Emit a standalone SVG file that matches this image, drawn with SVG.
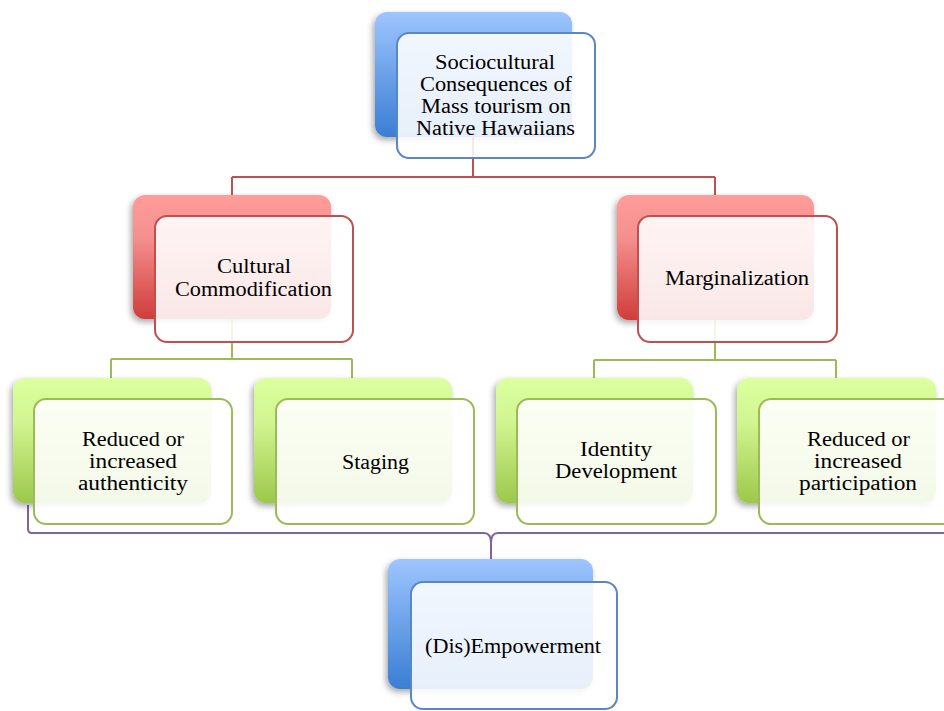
<svg xmlns="http://www.w3.org/2000/svg" width="944" height="711" viewBox="0 0 944 711">
<defs>
<linearGradient id="gBlue" x1="0" y1="0" x2="0" y2="1"><stop offset="0" stop-color="#9ec5ff"/><stop offset="1" stop-color="#3a7ed3"/></linearGradient>
<linearGradient id="gRed" x1="0" y1="0" x2="0" y2="1"><stop offset="0" stop-color="#ff9d9b"/><stop offset="0.35" stop-color="#f48f8d"/><stop offset="1" stop-color="#cf3d3a"/></linearGradient>
<linearGradient id="gGreen" x1="0" y1="0" x2="0" y2="1"><stop offset="0" stop-color="#dcffa0"/><stop offset="0.35" stop-color="#d2f591"/><stop offset="1" stop-color="#9cc84b"/></linearGradient>
<filter id="sh" x="-20%" y="-20%" width="140%" height="140%"><feDropShadow dx="-2" dy="3" stdDeviation="3" flood-color="#000" flood-opacity="0.35"/></filter>
</defs>
<style>
.t{font-family:"Liberation Serif","DejaVu Serif",serif;font-size:20px;fill:#000}
.front{fill:#fff;fill-opacity:0.88;stroke-width:2}
.fb{stroke:#5a87c4}
.fr{stroke:#c0504d}
.fg{stroke:#9bbb59}
.c{fill:none;stroke-width:2}
</style>
<g id="connectors">
<path class="c" stroke="#c0504d" d="M473,137 V177 M232,177 H715 M232,177 V215 M715,177 V216"/>
<path class="c" stroke="#9bbb59" d="M232,319 V359 M111,359 H352 M111,359 V398 M352,359 V398"/>
<path class="c" stroke="#9bbb59" d="M715,320 V360 M594,360 H836 M594,360 V398 M836,360 V398"/>
<path class="c" stroke="#8064a2" stroke-width="2.3" d="M28,505 V529 Q28,533 32,533 H484 Q491,533 491,543 V559 M491,543 Q491,533 498,533 H950 Q954,533 954,529 V505"/>
</g>
<g id="n-top">
<rect x="375" y="12" width="197" height="125" rx="12" fill="url(#gBlue)" filter="url(#sh)"/>
<rect class="front fb" x="397" y="33" width="198" height="125" rx="12"/>
<text class="t" x="435" y="69" textLength="120" lengthAdjust="spacingAndGlyphs">Sociocultural</text>
<text class="t" x="420" y="91" textLength="152" lengthAdjust="spacingAndGlyphs">Consequences of</text>
<text class="t" x="421" y="113" textLength="150" lengthAdjust="spacingAndGlyphs">Mass tourism on</text>
<text class="t" x="416" y="135" textLength="159" lengthAdjust="spacingAndGlyphs">Native Hawaiians</text>
</g>
<g id="n-cultural">
<rect x="133" y="195" width="198" height="124" rx="12" fill="url(#gRed)" filter="url(#sh)"/>
<rect class="front fr" x="155" y="216" width="198" height="126" rx="12"/>
<text class="t" x="217" y="273" textLength="74" lengthAdjust="spacingAndGlyphs">Cultural</text>
<text class="t" x="175" y="296" textLength="157" lengthAdjust="spacingAndGlyphs">Commodification</text>
</g>
<g id="n-marginalization">
<rect x="617" y="195" width="197" height="125" rx="12" fill="url(#gRed)" filter="url(#sh)"/>
<rect class="front fr" x="638" y="216" width="199" height="126" rx="12"/>
<text class="t" x="665" y="285" textLength="144" lengthAdjust="spacingAndGlyphs">Marginalization</text>
</g>
<g id="n-authenticity">
<rect x="13" y="378" width="198" height="125" rx="12" fill="url(#gGreen)" filter="url(#sh)"/>
<rect class="front fg" x="34" y="399" width="198" height="125" rx="12"/>
<text class="t" x="82" y="446" textLength="102" lengthAdjust="spacingAndGlyphs">Reduced or</text>
<text class="t" x="89" y="468" textLength="88" lengthAdjust="spacingAndGlyphs">increased</text>
<text class="t" x="78" y="490" textLength="110" lengthAdjust="spacingAndGlyphs">authenticity</text>
</g>
<g id="n-staging">
<rect x="254" y="378" width="198" height="125" rx="12" fill="url(#gGreen)" filter="url(#sh)"/>
<rect class="front fg" x="276" y="399" width="198" height="125" rx="12"/>
<text class="t" x="342" y="469" textLength="67" lengthAdjust="spacingAndGlyphs">Staging</text>
</g>
<g id="n-identity">
<rect x="496" y="378" width="197" height="125" rx="12" fill="url(#gGreen)" filter="url(#sh)"/>
<rect class="front fg" x="517" y="399" width="199" height="125" rx="12"/>
<text class="t" x="580" y="456" textLength="72" lengthAdjust="spacingAndGlyphs">Identity</text>
<text class="t" x="555" y="478" textLength="122" lengthAdjust="spacingAndGlyphs">Development</text>
</g>
<g id="n-participation">
<rect x="737" y="378" width="199" height="125" rx="12" fill="url(#gGreen)" filter="url(#sh)"/>
<rect class="front fg" x="759" y="399" width="199" height="125" rx="12"/>
<text class="t" x="807" y="446" textLength="103" lengthAdjust="spacingAndGlyphs">Reduced or</text>
<text class="t" x="814" y="468" textLength="88" lengthAdjust="spacingAndGlyphs">increased</text>
<text class="t" x="799" y="490" textLength="118" lengthAdjust="spacingAndGlyphs">participation</text>
</g>
<g id="n-empowerment">
<rect x="388" y="559" width="205" height="130" rx="12" fill="url(#gBlue)" filter="url(#sh)"/>
<rect class="front fb" x="411" y="582" width="206" height="127" rx="12"/>
<text class="t" x="425" y="653" textLength="176" lengthAdjust="spacingAndGlyphs">(Dis)Empowerment</text>
</g>
</svg>
